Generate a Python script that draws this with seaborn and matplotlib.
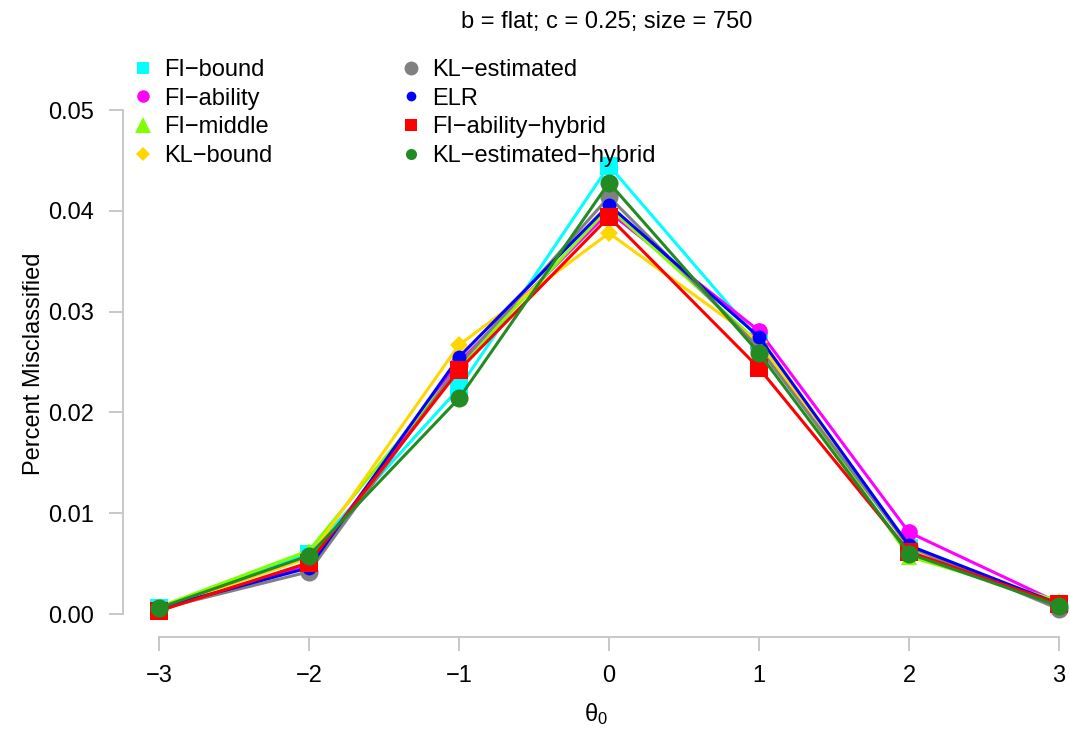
import matplotlib
matplotlib.use("Agg")
import matplotlib.pyplot as plt
from matplotlib.lines import Line2D
import seaborn as sns
import pandas as pd

sns.set_style("white")
plt.rcParams['font.family'] = ['Liberation Sans', 'DejaVu Sans']
plt.rcParams['mathtext.fontset'] = 'custom'
plt.rcParams['mathtext.rm'] = 'Liberation Sans'
plt.rcParams['mathtext.it'] = 'Liberation Sans'
plt.rcParams['text.color'] = 'black'
plt.rcParams['axes.labelcolor'] = 'black'

theta = [-3, -2, -1, 0, 1, 2, 3]
series_names = ["FI\u2212bound", "FI\u2212ability", "FI\u2212middle", "KL\u2212bound",
                "KL\u2212estimated", "ELR", "FI\u2212ability\u2212hybrid", "KL\u2212estimated\u2212hybrid"]
fi_bound = [0.0006, 0.0060, 0.0224, 0.0445, 0.0272, 0.0066, 0.0010]
fi_ability = [0.0005, 0.0049, 0.0250, 0.0399, 0.0281, 0.0081, 0.0011]
fi_middle = [0.0007, 0.0063, 0.0245, 0.0403, 0.0269, 0.0057, 0.0013]
kl_bound = [0.0005, 0.0056, 0.0267, 0.0378, 0.0270, 0.0066, 0.0009]
kl_estimated = [0.0005, 0.0042, 0.0247, 0.0414, 0.0264, 0.0067, 0.0005]
elr = [0.0006, 0.0046, 0.0255, 0.0406, 0.0275, 0.0068, 0.0010]
fi_ability_hybrid = [0.0003, 0.0051, 0.0242, 0.0394, 0.0244, 0.0062, 0.0010]
kl_estimated_hybrid = [0.0006, 0.0058, 0.0214, 0.0428, 0.0259, 0.0060, 0.0008]
all_values = [fi_bound, fi_ability, fi_middle, kl_bound, kl_estimated, elr,
              fi_ability_hybrid, kl_estimated_hybrid]

colors = ["#00FFFF", "#FF00FF", "#7FFF00", "#FFD700", "#808080", "#0000FF", "#FF0000", "#228B22"]
markers = ["s", "o", "^", "D", "o", "o", "s", "o"]
msizes = [13, 12, 12, 9, 13, 10, 13, 13]
leg_sizes = [9, 9, 11, 7, 10, 7, 9, 8]

FS = 17
W, H = 1070, 747
fig = plt.figure(figsize=(W / 100, H / 100), dpi=100)
ax = fig.add_axes([123 / W, 110 / H, 945 / W, 547 / H])

for i, (name, vals) in enumerate(zip(series_names, all_values)):
    df = pd.DataFrame({"theta": theta, "value": vals})
    sns.lineplot(data=df, x="theta", y="value", ax=ax, color=colors[i],
                 marker=markers[i], markersize=msizes[i], markeredgewidth=0,
                 linewidth=2.2, zorder=3 + i, clip_on=False, legend=False)

ax.set_xlim(-3.24, 3.06)
ax.set_ylim(-0.00228, 0.052)
ax.set_xticks(theta)
ax.set_xticklabels(["\u22123", "\u22122", "\u22121", "0", "1", "2", "3"])
ax.set_yticks([0, 0.01, 0.02, 0.03, 0.04, 0.05])
ax.set_yticklabels(["0.00", "0.01", "0.02", "0.03", "0.04", "0.05"])

for s in ["top", "right"]:
    ax.spines[s].set_visible(False)
for s in ["left", "bottom"]:
    ax.spines[s].set_color("#C8C8C8")
    ax.spines[s].set_linewidth(1.4)
ax.spines["left"].set_bounds(0, 0.05)
ax.spines["bottom"].set_bounds(-3, 3)
ax.tick_params(axis="both", colors="#C8C8C8", labelcolor="black", labelsize=FS,
               length=10, width=1.4, direction="out", left=True, bottom=True)
ax.tick_params(axis="y", pad=11)
ax.tick_params(axis="x", pad=10)

ax.set_xlabel(r"$\theta_0$", fontsize=FS, labelpad=10, color="black")
ax.set_ylabel("Percent Misclassified", fontsize=FS, labelpad=2, color="black")
fig.text(607 / W, 1 - 22 / H, "b = flat; c = 0.25; size = 750", ha="center", va="center",
         fontsize=FS, color="black")

handles = [Line2D([], [], linestyle="none", marker=markers[i], color=colors[i],
                  markersize=leg_sizes[i], markeredgewidth=0) for i in range(8)]
leg = ax.legend(handles, series_names, ncol=2, frameon=False, fontsize=FS,
                loc="upper left", bbox_to_anchor=(134 / W, 1 - 59 / H),
                bbox_transform=fig.transFigure, handlelength=0.72, handletextpad=0.55,
                columnspacing=5.5, labelspacing=0.28, borderaxespad=0, borderpad=0)
for t in leg.get_texts():
    t.set_color("black")

fig.savefig("out.png", dpi=100)
